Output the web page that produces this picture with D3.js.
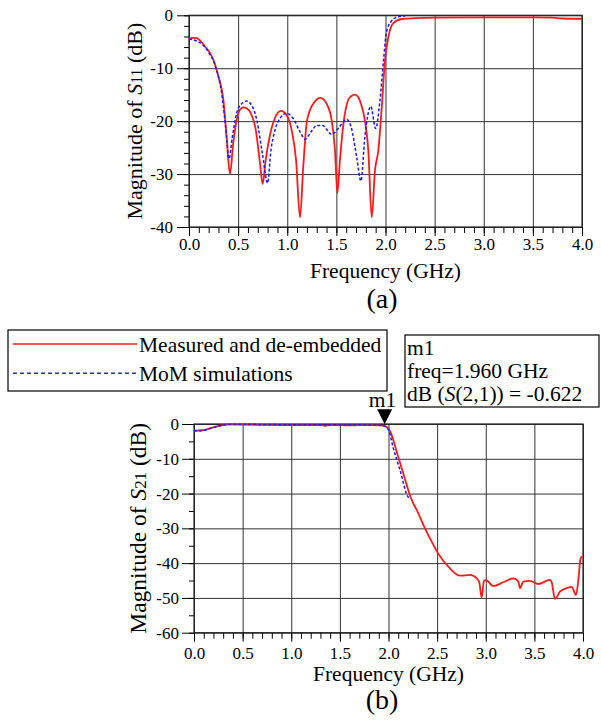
<html>
<head>
<meta charset="utf-8">
<script src="https://d3js.org/d3.v7.min.js"></script>
<style>
    body { margin: 0; background: #fff; }
    text { font-family: "Liberation Serif", "DejaVu Serif", serif; fill: #000; }
    .tick text { font-size: 17px; }
</style>
</head>
<body>
<div id="vis_container"></div>
<script>
    // S11 measured (red) and MoM (blue, stops at 2.2 GHz)
    var s11_meas_f  = [0.00,0.05,0.08,0.12,0.163,0.21,0.25,0.30,0.35,0.383,0.417,0.45,0.485,0.52,0.553,0.59,0.62,0.68,0.723,0.75,0.78,0.82,0.873,0.935,0.994,1.045,1.09,1.13,1.163,1.197,1.23,1.265,1.30,1.333,1.37,1.40,1.452,1.486,1.51,1.536,1.57,1.62,1.65,1.69,1.72,1.75,1.79,1.825,1.86,1.893,1.927,1.96,1.995,2.03,2.08,2.165,2.30,2.5,3.0,3.5,3.7,3.8,4.0];
    var s11_meas_db = [-4.35,-4.25,-4.3,-4.9,-5.9,-7.0,-8.5,-11.6,-16.0,-23.0,-30.0,-24.2,-19.8,-17.8,-17.4,-17.6,-18.2,-21.7,-28.0,-31.9,-27.4,-23.0,-19.5,-18.05,-18.9,-21.7,-27.4,-38.2,-28.6,-20.4,-18.0,-16.7,-15.9,-15.6,-15.9,-16.7,-19.8,-25.5,-33.6,-27.4,-20.8,-16.0,-15.3,-15.0,-15.4,-16.7,-19.8,-25.5,-38.2,-29.3,-25.5,-17.9,-8.5,-4.0,-1.5,-0.7,-0.55,-0.45,-0.4,-0.4,-0.45,-0.6,-0.65];
    var s11_sim_f   = [0.00,0.095,0.197,0.27,0.333,0.373,0.407,0.441,0.485,0.536,0.587,0.638,0.69,0.747,0.80,0.834,0.875,0.926,0.994,1.06,1.13,1.18,1.25,1.30,1.36,1.45,1.518,1.58,1.605,1.65,1.707,1.75,1.79,1.85,1.90,1.944,1.98,2.01,2.056,2.11,2.2];
    var s11_sim_db  = [-4.5,-5.0,-6.9,-9.7,-14.8,-21.1,-27.1,-23.0,-18.5,-16.7,-16.2,-17.0,-19.8,-26.1,-31.7,-25.5,-21.7,-19.5,-18.5,-19.5,-22.0,-23.4,-21.8,-20.8,-20.8,-22.5,-21.4,-20.0,-19.7,-21.1,-26.8,-31.3,-23.0,-17.2,-21.4,-16.0,-8.5,-3.1,-1.2,-0.4,-0.13];

    // S21 measured (red) and MoM (blue)
    var s21_meas_f  = [0.00,0.096,0.165,0.267,0.37,0.5,1.0,1.3,1.35,1.4,1.6,1.81,1.90,1.964,1.998,2.033,2.084,2.136,2.187,2.22,2.255,2.29,2.375,2.444,2.51,2.632,2.735,2.838,2.907,2.934,2.958,2.982,3.003,3.078,3.18,3.283,3.335,3.352,3.386,3.455,3.54,3.66,3.678,3.712,3.763,3.832,3.884,3.928,3.952,3.976,4.0];
    var s21_meas_db = [-1.9,-1.8,-1.25,-0.5,-0.1,-0.2,-0.3,-0.3,-0.5,-0.3,-0.4,-0.3,-0.4,-0.622,-1.25,-3.2,-8.0,-12.7,-17.5,-20.5,-22.8,-24.7,-30.0,-33.8,-37.2,-41.5,-43.6,-43.4,-44.4,-45.6,-49.9,-45.0,-44.9,-46.6,-45.5,-44.4,-45.3,-47.2,-45.3,-45.1,-46.0,-44.8,-45.5,-50.3,-48.2,-47.2,-46.8,-49.2,-44.9,-38.6,-38.0];
    var s21_sim_f   = [0.00,0.1,0.2,0.3,0.4,0.6,1.0,1.5,1.9,1.96,2.0,2.05,2.118,2.2,2.21];
    var s21_sim_db  = [-2.0,-1.8,-1.0,-0.3,-0.05,-0.1,-0.2,-0.2,-0.3,-0.6,-1.7,-7.0,-13.2,-20.9,-21.2];

    var x_ticks = [0,0.5,1,1.5,2,2.5,3,3.5,4];
    var s11_ticks = [0,-10,-20,-30,-40];
    var s21_ticks = [0,-10,-20,-30,-40,-50,-60];

    var marker = {freq: 1.960, db: -0.622};

    var svg = d3.select("#vis_container")
            .append("svg")
            .attr("width", 601)
            .attr("height", 723);

    function zip(f, v) { return f.map(function(d, i) { return [d, v[i]]; }); }

    function drawPanel(p) {
        var x = d3.scaleLinear().domain([0, 4]).range([p.left, p.right]);
        var y = d3.scaleLinear().domain([p.ymin, 0]).range([p.bottom, p.top]);
        var w = p.right - p.left, h = p.bottom - p.top;

        // grid
        svg.append("g").attr("transform", "translate(0," + p.bottom + ")")
                .call(d3.axisBottom(x).tickValues(x_ticks).tickSize(-h).tickFormat(""))
                .call(function(g) { g.select(".domain").remove(); g.selectAll("line").attr("stroke", "#333"); });
        svg.append("g").attr("transform", "translate(" + p.left + ",0)")
                .call(d3.axisLeft(y).tickValues(p.yticks).tickSize(-w).tickFormat(""))
                .call(function(g) { g.select(".domain").remove(); g.selectAll("line").attr("stroke", "#333"); });

        // minor ticks
        svg.append("g").attr("transform", "translate(0," + p.bottom + ")")
                .call(d3.axisBottom(x).tickValues(d3.range(0, 41).map(function(i) { return i / 10; })).tickSize(6).tickFormat(""))
                .call(function(g) { g.select(".domain").remove(); });
        svg.append("g").attr("transform", "translate(" + p.left + ",0)")
                .call(d3.axisLeft(y).tickValues(d3.range(p.ymin, 0.1, p.yminor)).tickSize(5).tickFormat(""))
                .call(function(g) { g.select(".domain").remove(); });

        // major ticks + labels
        svg.append("g").attr("transform", "translate(0," + p.bottom + ")")
                .call(d3.axisBottom(x).tickValues(x_ticks).tickSize(9).tickFormat(function(d) { return d.toFixed(1); }))
                .call(function(g) {
                    g.select(".domain").remove();
                    g.selectAll("text").attr("y", p.xlabelY).attr("dy", 0).attr("fill", "#000");
                });
        svg.append("g").attr("transform", "translate(" + p.left + ",0)")
                .call(d3.axisLeft(y).tickValues(p.yticks).tickSize(12).tickPadding(p.ypad).tickFormat(function(d) { return String(d); }))
                .call(function(g) { g.select(".domain").remove(); g.selectAll("text").attr("fill", "#000"); });

        svg.append("rect")
                .attr("x", p.left).attr("y", p.top).attr("width", w).attr("height", h)
                .attr("fill", "none").attr("stroke", "#222").attr("stroke-width", 1.2);

        var line = d3.line()
                .x(function(d) { return x(d[0]); })
                .y(function(d) { return y(d[1]); })
                .curve(d3.curveMonotoneX);

        svg.append("path").datum(zip(p.mf, p.mv))
                .attr("d", line).attr("fill", "none")
                .attr("stroke", "#ff1a1a").attr("stroke-width", 1.8);
        svg.append("path").datum(zip(p.sf, p.sv))
                .attr("d", line).attr("fill", "none")
                .attr("stroke", "#1a1aff").attr("stroke-width", 1.5)
                .attr("stroke-dasharray", "3,2");

        // axis titles
        var yl = svg.append("text")
                .attr("transform", "translate(" + p.ylabX + "," + ((p.top + p.bottom) / 2) + ") rotate(-90)")
                .attr("text-anchor", "middle")
                .style("font-size", p.ylabSize + "px");
        yl.append("tspan").text("Magnitude of ");
        yl.append("tspan").style("font-style", "italic").text("S");
        yl.append("tspan").style("font-size", "72%").text(p.sub);
        yl.append("tspan").text(" (dB)");

        svg.append("text")
                .attr("x", (p.left + p.right) / 2).attr("y", p.freqY)
                .attr("text-anchor", "middle").style("font-size", "21.5px")
                .text("Frequency (GHz)");
        svg.append("text")
                .attr("x", 382).attr("y", p.capY)
                .attr("text-anchor", "middle").style("font-size", "28px")
                .text(p.caption);

        return {x: x, y: y};
    }

    drawPanel({
        left: 189, right: 582, top: 15.3, bottom: 227, ymin: -40, yminor: 2,
        yticks: s11_ticks, ypad: 4, xlabelY: 22.5, sub: "11", ylabX: 142, ylabSize: 22,
        freqY: 277.5, capY: 308, caption: "(a)",
        mf: s11_meas_f, mv: s11_meas_db, sf: s11_sim_f, sv: s11_sim_db
    });

    var b = drawPanel({
        left: 194, right: 583, top: 424, bottom: 632.7, ymin: -60, yminor: 5,
        yticks: s21_ticks, ypad: 3, xlabelY: 26.8, sub: "21", ylabX: 146, ylabSize: 23.5,
        freqY: 680.7, capY: 708.5, caption: "(b)",
        mf: s21_meas_f, mv: s21_meas_db, sf: s21_sim_f, sv: s21_sim_db
    });

    // marker m1
    var mx = b.x(marker.freq), my = b.y(marker.db);
    svg.append("path")
            .attr("d", "M" + (mx - 7.5) + "," + (my - 17) + "L" + (mx + 7.5) + "," + (my - 17) + "L" + mx + "," + (my - 2) + "Z")
            .attr("fill", "#000");
    svg.append("text").attr("x", mx - 2).attr("y", my - 19)
            .attr("text-anchor", "middle").style("font-size", "21.5px").text("m1");

    svg.append("rect").attr("x", 405).attr("y", 335).attr("width", 194).attr("height", 72)
            .attr("fill", "#fff").attr("stroke", "#000").attr("stroke-width", 1.2);
    svg.append("text").attr("x", 407).attr("y", 355).style("font-size", "21.5px").text("m1");
    svg.append("text").attr("x", 407).attr("y", 378.3).style("font-size", "21.5px")
            .text("freq=" + marker.freq.toFixed(3) + " GHz");
    var mt = svg.append("text").attr("x", 407).attr("y", 400.7).style("font-size", "21.5px");
    mt.append("tspan").text("dB (");
    mt.append("tspan").style("font-style", "italic").text("S");
    mt.append("tspan").text("(2,1)) = " + marker.db.toFixed(3));

    // legend
    svg.append("rect").attr("x", 8).attr("y", 330).attr("width", 379).attr("height", 61)
            .attr("fill", "#fff").attr("stroke", "#000").attr("stroke-width", 1.2);
    svg.append("line").attr("x1", 13).attr("x2", 137).attr("y1", 344).attr("y2", 344)
            .attr("stroke", "#ff1a1a").attr("stroke-width", 1.6);
    svg.append("line").attr("x1", 13).attr("x2", 137).attr("y1", 373.3).attr("y2", 373.3)
            .attr("stroke", "#1f3c8c").attr("stroke-width", 1.4).attr("stroke-dasharray", "4,3");
    svg.append("text").attr("x", 139).attr("y", 352.3).style("font-size", "21.5px").text("Measured and de-embedded");
    svg.append("text").attr("x", 139).attr("y", 380.5).style("font-size", "21.5px").text("MoM simulations");
</script>
</body>
</html>
